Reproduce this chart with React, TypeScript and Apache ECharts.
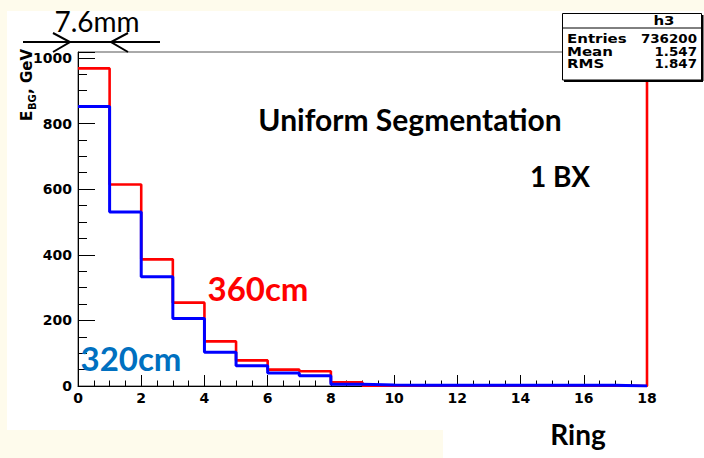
import React, { useEffect, useRef } from 'react';
import * as echarts from 'echarts';

// Histogram contents per ring bin [i, i+1)
const ringBins = [0, 1, 2, 3, 4, 5, 6, 7, 8, 9, 10, 11, 12, 13, 14, 15, 16, 17];
const red360cm = [968, 614, 386, 254, 136, 78, 50, 45, 11, 1, 1, 1, 1, 1, 1, 1, 1, 0];
const blue320cm = [852, 530, 333, 206, 103, 62, 40, 31, 5, 3, 2, 2, 2, 2, 2, 2, 2, 0];
const redLastEdgeValue = 1200; // red outline rises off-scale at the last edge
const blueLastEdgeValue = 0;
const xMin = 0;
const xMax = 18;
const yMin = 0;
const yMax = 1018;
const statsTitle = 'h3';
const statsNames = ['Entries', 'Mean', 'RMS'];
const statsValues = ['736200', '1.547', '1.847'];

function outline(values: number[], endValue: number): number[][] {
  const pts: number[][] = [];
  values.forEach((v, i) => {
    const lo = ringBins[i];
    pts.push([lo, v]);
    pts.push([lo + 1, v]);
  });
  pts.push([ringBins[ringBins.length - 1] + 1, endValue]);
  return pts;
}

const tickFont = {
  fontFamily: 'DejaVu Sans',
  fontWeight: 'bold' as const,
  fontSize: 14,
  color: '#000',
};

export default function App() {
  const ref = useRef<HTMLDivElement>(null);
  useEffect(() => {
    if (!ref.current) return;
    const chart = echarts.init(ref.current, undefined, { renderer: 'svg' });
    const slideFont = 'Lato';
    const statsRowY = [39, 51.5, 63.5];
    const statsStyle = { fill: '#000', fontFamily: 'DejaVu Sans', fontSize: 12, fontWeight: 'bold', verticalAlign: 'middle', lineHeight: 11 };
    const graphic: any[] = [
      { type: 'rect', z: -10, shape: { x: 7, y: 11, width: 697, height: 419 }, style: { fill: '#ffffff' } },
      { type: 'rect', z: -10, shape: { x: 443, y: 429, width: 261, height: 29 }, style: { fill: '#ffffff' } },
      // 7.6mm arrows
      { type: 'line', z: 100, shape: { x1: 23, y1: 42, x2: 160, y2: 42 }, style: { stroke: '#000', lineWidth: 2 } },
      { type: 'polyline', z: 100, shape: { points: [[53, 33], [70, 42], [53, 52]] }, style: { stroke: '#000', lineWidth: 2, fill: null } },
      { type: 'polyline', z: 100, shape: { points: [[128, 33], [111, 42], [128, 52]] }, style: { stroke: '#000', lineWidth: 2, fill: null } },
      { type: 'text', z: 100, x: 97, y: 21, style: { text: '7.6mm', fill: '#000', fontFamily: slideFont, fontSize: 28, fontWeight: 'normal', align: 'center', verticalAlign: 'middle', lineHeight: 20 } },
      // annotations
      { type: 'text', z: 100, x: 410, y: 119, style: { text: 'Uniform Segmentation', fill: '#000', fontFamily: slideFont, fontSize: 30, fontWeight: 'bold', align: 'center', verticalAlign: 'middle' } },
      { type: 'text', z: 100, x: 560, y: 176, style: { text: '1 BX', fill: '#000', fontFamily: slideFont, fontSize: 28, fontWeight: 'bold', align: 'center', verticalAlign: 'middle' } },
      { type: 'text', z: 100, x: 258, y: 288, style: { text: '360cm', fill: '#ff0000', fontFamily: slideFont, fontSize: 33, fontWeight: 'bold', align: 'center', verticalAlign: 'middle' } },
      { type: 'text', z: 100, x: 131, y: 358, style: { text: '320cm', fill: '#0070c0', fontFamily: slideFont, fontSize: 33, fontWeight: 'bold', align: 'center', verticalAlign: 'middle' } },
      { type: 'text', z: 100, x: 578, y: 434, style: { text: 'Ring', fill: '#000', fontFamily: slideFont, fontSize: 28, fontWeight: 'bold', align: 'center', verticalAlign: 'middle' } },
      // y-axis title
      { type: 'text', z: 100, x: 27, y: 121, rotation: Math.PI / 2, style: { text: 'E', fill: '#000', fontFamily: 'DejaVu Sans', fontSize: 15, fontWeight: 'bold', align: 'left', verticalAlign: 'middle' } },
      { type: 'text', z: 100, x: 32, y: 110, rotation: Math.PI / 2, style: { text: 'BG', fill: '#000', fontFamily: 'DejaVu Sans', fontSize: 10, fontWeight: 'bold', align: 'left', verticalAlign: 'middle' } },
      { type: 'text', z: 100, x: 27, y: 94, rotation: Math.PI / 2, style: { text: ', GeV', fill: '#000', fontFamily: 'DejaVu Sans', fontSize: 15, fontWeight: 'bold', align: 'left', verticalAlign: 'middle' } },
      // stats box
      { type: 'line', z: 49, shape: { x1: 564, y1: 81, x2: 703, y2: 81 }, style: { stroke: '#000', lineWidth: 2 } },
      { type: 'line', z: 49, shape: { x1: 702.5, y1: 15, x2: 702.5, y2: 81 }, style: { stroke: '#000', lineWidth: 2 } },
      { type: 'rect', z: 50, shape: { x: 562.5, y: 13.5, width: 139, height: 66.5 }, style: { fill: '#fff', stroke: '#000', lineWidth: 1 } },
      { type: 'line', z: 51, shape: { x1: 562.5, y1: 28, x2: 701.5, y2: 28 }, style: { stroke: '#000', lineWidth: 1 } },
      { type: 'text', z: 52, x: 664, y: 21, scaleX: 1.25, style: { ...statsStyle, text: statsTitle, align: 'center' } },
    ];
    statsNames.forEach((n, i) => {
      graphic.push({ type: 'text', z: 52, x: 567, y: statsRowY[i], scaleX: 1.25, style: { ...statsStyle, text: n, align: 'left' } });
      graphic.push({ type: 'text', z: 52, x: 697, y: statsRowY[i], scaleX: 1.12, style: { ...statsStyle, text: statsValues[i], align: 'right' } });
    });

    const option: any = {
      animation: false,
      backgroundColor: '#fefbec',
      grid: {
        left: 78, right: 57, top: 52, bottom: 72,
        show: true, borderColor: '#555', borderWidth: 1, backgroundColor: 'transparent',
      },
      xAxis: {
        type: 'value', min: xMin, max: xMax, interval: 2,
        axisLine: { show: true, onZero: false, lineStyle: { color: '#000', width: 1 } },
        axisTick: { show: true, inside: true, length: 11, lineStyle: { color: '#000' } },
        minorTick: { show: true, splitNumber: 4, length: 5.5, lineStyle: { color: '#000' } },
        splitLine: { show: false }, minorSplitLine: { show: false },
        axisLabel: { ...tickFont, margin: 5 },
      },
      yAxis: {
        type: 'value', min: yMin, max: yMax, interval: 200,
        axisLine: { show: true, onZero: false, lineStyle: { color: '#000', width: 1 } },
        axisTick: { show: true, inside: true, length: 17, lineStyle: { color: '#000' } },
        minorTick: { show: true, splitNumber: 4, length: 9, lineStyle: { color: '#000' } },
        splitLine: { show: false }, minorSplitLine: { show: false },
        axisLabel: {
          ...tickFont, margin: 6, showMaxLabel: false,
          formatter: (v: number) => (v % 200 === 0 ? String(v) : ''),
        },
      },
      series: [
        {
          type: 'line', name: '360cm', data: outline(red360cm, redLastEdgeValue),
          symbol: 'none', clip: true, lineStyle: { color: '#ff0000', width: 2.6 }, z: 3,
        },
        {
          type: 'line', name: '320cm', data: outline(blue320cm, blueLastEdgeValue),
          symbol: 'none', clip: true, lineStyle: { color: '#0000ff', width: 3 }, z: 4,
        },
      ],
      graphic,
    };
    chart.setOption(option);
    return () => chart.dispose();
  }, []);
  return (
    <div
      ref={ref}
      style={{ position: 'fixed', left: 0, top: 0, width: 704, height: 458 }}
    />
  );
}
